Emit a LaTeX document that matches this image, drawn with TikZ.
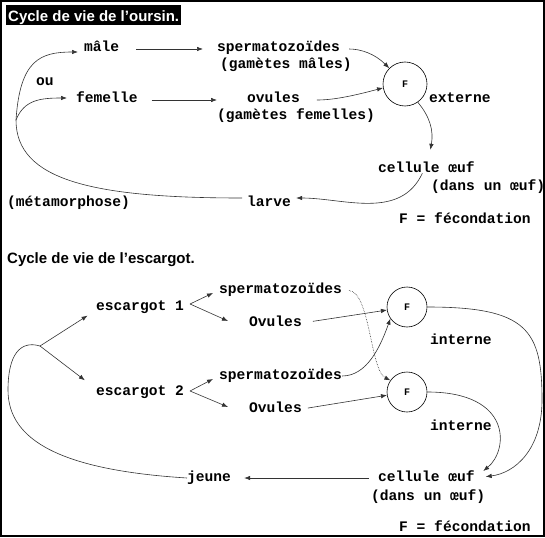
\documentclass[tikz,border=0pt]{standalone}
\usepackage{fontspec}
\setmainfont{Liberation Serif}
\setsansfont{Liberation Sans}
\setmonofont{Liberation Mono}
\usetikzlibrary{arrows.meta,calc}

\begin{document}
\begin{tikzpicture}[x=1pt,y=-1pt,>={Latex[length=6pt,width=4.5pt]},
  txt/.style={anchor=west,inner sep=0pt,text height=6pt,text depth=0pt,font=\fontsize{14.6}{16}\ttfamily\bfseries},
  fec/.style={draw,circle,minimum size=44pt,inner sep=0pt,line width=0.6pt,font=\fontsize{10}{12}\ttfamily\bfseries},
  ln/.style={line width=0.6pt,black!80},
  titre/.style={anchor=base west,inner sep=0pt,font=\fontsize{15}{18}\sffamily\bfseries}]
  \useasboundingbox (0,0) rectangle (545,537);
  \draw[line width=2pt] (1,1) rectangle (544,536);
  % oursin
  \node[titre,fill=black,text=white,inner xsep=2pt,text height=17pt,text depth=3pt] (t1) at (6,22) {Cycle de vie de l'oursin.};
  \node[txt] (male) at (84,49) {mâle};
  \node[txt] (sperm) at (217,49) {spermatozoïdes};
  \node[txt] (spermg) at (220,66) {(gamètes mâles)};
  \node[txt] (ou) at (36,83) {ou};
  \node[txt] (fem) at (76,100) {femelle};
  \node[txt] (ov) at (247,100) {ovules};
  \node[txt] (ovg) at (217,117) {(gamètes femelles)};
  \node[fec] (F) at (405,84) {F};
  \node[txt] (ext) at (429,100) {externe};
  \node[txt] (cel) at (378,170) {cellule œuf};
  \node[txt] (dans) at (431,187) {(dans un œuf)};
  \node[txt] (larve) at (247,203) {larve};
  \node[txt] (meta) at (7,203) {(métamorphose)};
  \node[txt] (fec) at (399,220) {F = fécondation};
  \coordinate (ouf) at (16,120);
  \draw[ln,->,shorten <=17pt,shorten >=14pt] (male.east) -- (sperm.west);
  \draw[ln,->,shorten <=14pt,shorten >=30pt] (fem.east) -- (ov.west);
  \draw[ln,->,shorten <=9pt] (sperm.east) to[out=0,in=135] (F.135);
  \draw[ln,->,shorten <=17pt] (ov.east) to[out=0,in=195] (F.190);
  \draw[ln,->] (F.-55) to[out=-50,in=80] ([xshift=4pt,yshift=17pt]cel.north);
  \draw[ln,->,shorten >=5pt] ([xshift=-4pt]cel.south) to[out=-115,in=0] ([yshift=5pt]larve.east);
  \draw[ln,shorten <=5pt] ([yshift=5pt]larve.west) .. controls +(-155,0) and +(0,60) .. (ouf);
  \draw[ln,->] (ouf) .. controls +(4,-60) and +(-38,0) .. ([xshift=-6pt,yshift=-3pt]male.west);
  \draw[ln,->] (ouf) .. controls +(8,-20) and +(-27,0) .. ([xshift=-9pt,yshift=2pt]fem.west);
  % escargot
  \node[titre] (t2) at (7,263) {Cycle de vie de l'escargot.};
  \node[txt] (esc1) at (96,307) {escargot 1};
  \node[txt] (esc2) at (96,392) {escargot 2};
  \node[txt] (sp1) at (219,290) {spermatozoïdes};
  \node[txt] (ov1) at (249,323) {Ovules};
  \node[txt] (sp2) at (219,376) {spermatozoïdes};
  \node[txt] (ov2) at (249,409) {Ovules};
  \node[fec,minimum size=40pt] (Fa) at (407,307) {F};
  \node[fec,minimum size=40pt] (Fb) at (407,392) {F};
  \node[txt] (inta) at (430,341) {interne};
  \node[txt] (intb) at (430,427) {interne};
  \node[txt] (cel2) at (378,478) {cellule œuf};
  \node[txt] (dans2) at (371,497) {(dans un œuf)};
  \node[txt] (jeune) at (187,478) {jeune};
  \node[txt] (fec2) at (399,528) {F = fécondation};
  \coordinate (jct) at (40,346);
  \coordinate (loopl) at (8,390);
  \coordinate (bend) at (542,400);
  \draw[ln,->,shorten >=10pt] (jct) -- (esc1.south west);
  \draw[ln,->,shorten >=14pt] (jct) -- (esc2.north west);
  \draw[ln,->] ([shift={(6,-3)}]esc1.east) -- ([shift={(-6,3)}]sp1.west);
  \draw[ln,->] ([shift={(6,-3)}]esc1.east) -- ([shift={(-21,-2)}]ov1.west);
  \draw[ln,->] ([shift={(6,-1)}]esc2.east) -- ([shift={(-6,3)}]sp2.west);
  \draw[ln,->] ([shift={(6,-1)}]esc2.east) -- ([shift={(-21,-2)}]ov2.west);
  \draw[ln,->,shorten <=11pt] (ov1.east) -- (Fa);
  \draw[ln,->,shorten <=6pt] (ov2.east) -- (Fb);
  \draw[ln,->] (sp2.east) .. controls +(25,0) and +(-10,28) .. (Fa.215);
  \draw[ln,->,densely dotted,shorten <=7pt] (sp1.east) .. controls +(28,2) and +(-20,-10) .. (Fb.145);
  \draw[ln,->,shorten >=11pt] (Fa.east) .. controls +(100,0) and +(0,-70) .. (bend) .. controls +(0,50) and +(40,-5) .. (cel2.east);
  \draw[ln,->,shorten >=11pt] (Fb.east) .. controls +(85,0) and +(34,-28) .. (cel2.east);
  \draw[ln,->,shorten <=9pt,shorten >=13pt] (cel2.west) -- (jeune.east);
  \draw[ln] (jeune.west) .. controls +(-127,-8) and +(0,50) .. (loopl) .. controls +(0,-35) and +(-20,-6) .. (jct);
\end{tikzpicture}
\end{document}
